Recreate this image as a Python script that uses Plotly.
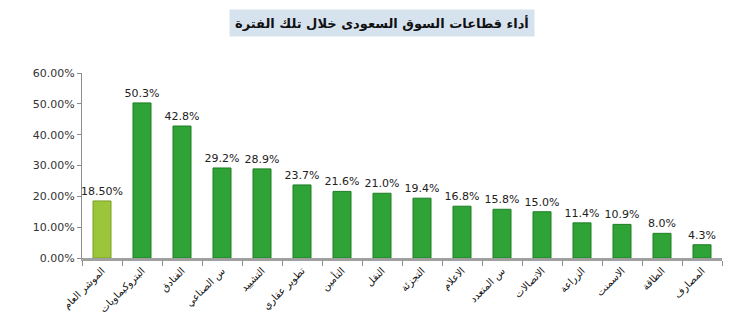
import plotly.graph_objects as go

categories = ["الموشر العام", "البتروكيماويات", "الفنادق", "س الصناعي", "التشييد",
              "تطوير عقاري", "التأمين", "النقل", "التجزئة", "الاعلام", "س المتعدد",
              "الاتصالات", "الزراعة", "الاسمنت", "الطاقة", "المصارف"]
values = [18.5, 50.3, 42.8, 29.2, 28.9, 23.7, 21.6, 21.0, 19.4, 16.8, 15.8, 15.0, 11.4, 10.9, 8.0, 4.3]
value_labels = ["18.50%", "50.3%", "42.8%", "29.2%", "28.9%", "23.7%", "21.6%", "21.0%",
                "19.4%", "16.8%", "15.8%", "15.0%", "11.4%", "10.9%", "8.0%", "4.3%"]
y_tick_vals = [0, 10, 20, 30, 40, 50, 60]
y_tick_text = ["0.00%", "10.00%", "20.00%", "30.00%", "40.00%", "50.00%", "60.00%"]
title_text = "أداء قطاعات السوق السعودى خلال تلك الفترة"

colors = ["#9cc63a"] + ["#2fa336"] * (len(categories) - 1)
edge = ["#7a9e22"] + ["#1f7d25"] * (len(categories) - 1)

fig = go.Figure()
fig.add_trace(go.Bar(
    x=categories, y=values, text=value_labels, textposition="outside",
    constraintext="none",
    textfont=dict(family="DejaVu Sans", size=11, color="#222222"),
    marker=dict(color=colors, line=dict(color=edge, width=1)),
    width=0.45, cliponaxis=False,
))

fig.update_layout(
    width=743, height=328,
    margin=dict(l=82, r=21, t=73, b=70),
    paper_bgcolor="white", plot_bgcolor="white",
    showlegend=False,
    font=dict(family="DejaVu Sans", color="#222222"),
    annotations=[dict(
        text="<b>" + title_text + "</b>", xref="paper", yref="paper",
        x=0.468, y=1.0, yshift=50, xanchor="center", yanchor="middle", showarrow=False,
        font=dict(family="DejaVu Sans", size=13, color="#111111"),
        bgcolor="#d6e3ef", borderpad=5,
    )],
)
fig.update_yaxes(range=[0, 60], tickvals=y_tick_vals, ticktext=y_tick_text,
                 showgrid=False, showline=True, linecolor="#8c8c8c", ticks="outside",
                 ticklen=4, tickcolor="#8c8c8c", tickfont=dict(size=11, color="#333333"),
                 zeroline=False, automargin=False)
fig.update_xaxes(showline=True, linecolor="#a0a0a0", linewidth=3, ticks="outside",
                 tickson="boundaries", ticklen=5, tickcolor="#8c8c8c",
                 tickangle=-45, tickfont=dict(size=10, color="#111111"),
                 showgrid=False, automargin=False)

fig.write_html("out.html")
